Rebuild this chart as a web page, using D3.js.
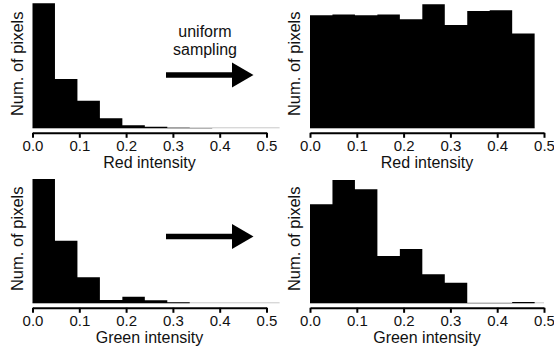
<!DOCTYPE html>
<html lang="en">
<head>
  <meta charset="UTF-8">
  <title>uniform sampling histograms</title>
  <script src="https://cdn.jsdelivr.net/npm/d3@7"></script>
  <style>
    body { margin: 0; background: #fff; }
    svg text { font-family: "Liberation Sans", Arial, sans-serif; fill: #111; }
  </style>
</head>
<body>
<script>
  // histogram data, bin width in intensity units
  var binWidth = 0.048;
  var redBefore = [125, 49.3, 27.6, 10, 3, 1.6, 0.5, 0.3, 0, 0, 0];
  var redAfter = [113, 113.7, 113, 113.7, 109, 124, 103.3, 117.3, 118, 94.7];
  var greenBefore = [124.3, 62.6, 26, 3.3, 6.6, 3, 1, 0, 0, 0, 0];
  var greenAfter = [99, 123.3, 114, 47.3, 54.3, 29, 20.6, 0.3, 0.3, 1.3];
  var tickValues = [0, 0.1, 0.2, 0.3, 0.4, 0.5];
  var xTitles = ["Red intensity", "Green intensity"];
  var yTitle = "Num. of pixels";
  var arrowText = ["uniform", "sampling"];

  var w = 554, h = 350;
  var plotW = 234, plotH = 125;

  // layout of the four panels
  var panels = [
    { data: redBefore, x0: 32.5, base: 128.3, title: xTitles[0], lineEnd: 0.528 },
    { data: redAfter, x0: 310, base: 128.3, title: xTitles[0], lineEnd: 0.48 },
    { data: greenBefore, x0: 32.5, base: 303.3, title: xTitles[1], lineEnd: 0.528 },
    { data: greenAfter, x0: 310, base: 303.3, title: xTitles[1], lineEnd: 0.5 }
  ];

  var svg = d3.select('body').append('svg').attr('width', w).attr('height', h);

  panels.forEach(function (p) {
    var x = d3.scaleLinear().domain([0, 0.5]).range([p.x0, p.x0 + plotW]);
    var y = d3.scaleLinear().domain([0, 125]).range([p.base, p.base - plotH]);
    var g = svg.append('g');

    // light baseline under the bars
    g.append('line')
      .attr('x1', x(0)).attr('x2', x(p.lineEnd))
      .attr('y1', p.base - 0.5).attr('y2', p.base - 0.5)
      .attr('stroke', '#c8c8c8').attr('stroke-width', 1);

    // bars as one stepped area so no seams show between bins
    var pts = p.data.map(function (d, i) { return [i * binWidth, d] });
    pts.push([p.data.length * binWidth, p.data[p.data.length - 1]]);
    var area = d3.area()
      .x(function (d) { return x(d[0]) })
      .y0(p.base)
      .y1(function (d) { return y(d[1]) })
      .curve(d3.curveStepAfter);
    g.append('path').datum(pts).attr('d', area).attr('fill', '#000');

    // x axis
    var axis = g.append('g')
      .attr('transform', 'translate(0,' + (p.base + 4.5) + ')')
      .call(d3.axisBottom(x).tickValues(tickValues).tickFormat(d3.format('.1f'))
        .tickSize(5).tickSizeOuter(0).tickPadding(3));
    axis.select('.domain').attr('stroke', '#000').attr('stroke-width', 2);
    axis.selectAll('.tick line').attr('stroke', '#000').attr('stroke-width', 2);
    axis.selectAll('.tick text').attr('font-size', 15).attr('fill', '#111')
      .attr('font-family', '"Liberation Sans", Arial, sans-serif');

    g.append('text')
      .attr('x', x(0.25)).attr('y', p.base + 40)
      .attr('text-anchor', 'middle').attr('font-size', 16)
      .text(p.title);

    g.append('text')
      .attr('transform', 'translate(' + (p.x0 - 10) + ',' + (p.base - 64.5) + ') rotate(-90)')
      .attr('text-anchor', 'middle').attr('font-size', 16.5)
      .text(yTitle);
  });

  // arrows between panels
  var arrows = [75, 236.5];
  arrows.forEach(function (cy) {
    svg.append('line')
      .attr('x1', 166).attr('x2', 234).attr('y1', cy).attr('y2', cy)
      .attr('stroke', '#000').attr('stroke-width', 5.5);
    svg.append('path')
      .attr('d', 'M232,' + (cy - 12.5) + 'L253.5,' + cy + 'L232,' + (cy + 12.5) + 'Z')
      .attr('fill', '#000');
  });

  svg.selectAll('.arrowlabel').data(arrowText).enter().append('text')
    .attr('class', 'arrowlabel')
    .attr('x', 205).attr('y', function (d, i) { return 37 + i * 17.5 })
    .attr('text-anchor', 'middle').attr('font-size', 16)
    .text(function (d) { return d });
</script>
</body>
</html>
